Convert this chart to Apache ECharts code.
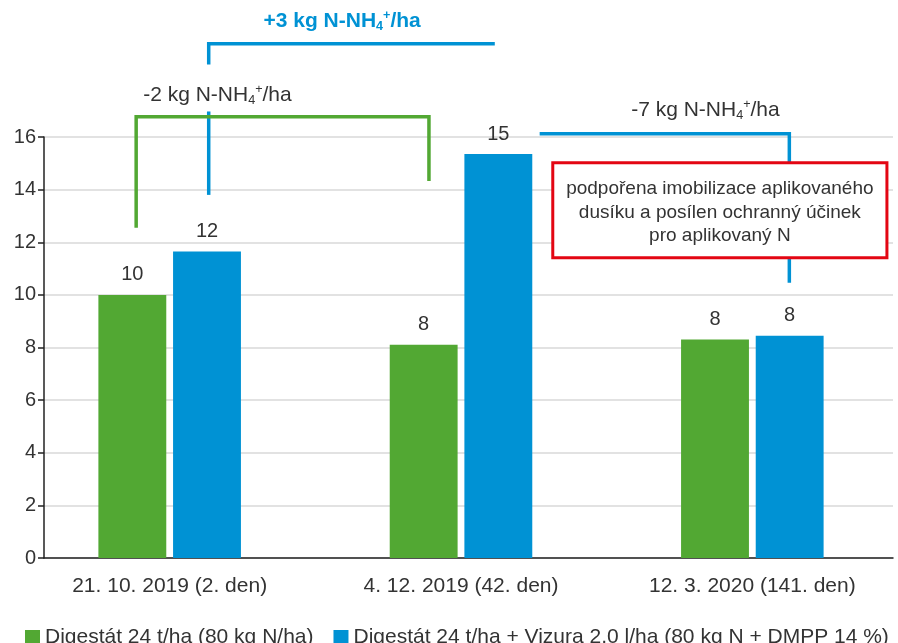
<!DOCTYPE html>
<html>
<head>
<meta charset="utf-8">
<script src="https://cdn.jsdelivr.net/npm/echarts@6/dist/echarts.min.js"></script>
<style>
  html, body { margin: 0; padding: 0; background: #fff; }
  #chart { width: 898px; height: 643px; }
</style>
</head>
<body>
<div id="chart"></div>
<script>
const categories = ['21. 10. 2019 (2. den)', '4. 12. 2019 (42. den)', '12. 3. 2020 (141. den)']
const seriesNames = ['Digestát 24 t/ha (80 kg N/ha)', 'Digestát 24 t/ha + Vizura 2,0 l/ha (80 kg N + DMPP 14 %)']
const digestat = [10.0, 8.1, 8.3]
const digestatVizura = [11.65, 15.35, 8.45]
const yMin = 0
const yMax = 16
const yStep = 2
const noteText = 'podpořena imobilizace aplikovaného\ndusíku a posílen ochranný účinek\npro aplikovaný N'

const GREEN = '#52a833'
const BLUE = '#0092d4'
const RED = '#e30613'
const TEXT = '#333333'
const FONT = 'Liberation Sans, Arial, sans-serif'

const chart = echarts.init(document.getElementById('chart'))

const option = {
  animation: false,
  textStyle: { fontFamily: FONT },
  grid: [
    // bars
    { left: 24, right: -2, top: 137, bottom: 85 },
    // visible axes
    { left: 44, right: 5, top: 137, bottom: 85 }
  ],
  legend: {
    left: 20,
    top: 622,
    icon: 'rect',
    itemWidth: 15,
    itemHeight: 15,
    itemGap: 20,
    textStyle: { fontSize: 21, color: TEXT, fontFamily: FONT },
    data: seriesNames
  },
  xAxis: [
    {
      type: 'category',
      gridIndex: 0,
      data: categories,
      axisLine: { show: false },
      axisTick: { show: false },
      axisLabel: { fontSize: 21, color: TEXT, margin: 18 }
    },
    {
      type: 'value',
      gridIndex: 1,
      min: 0,
      max: 1,
      axisLine: { show: true, lineStyle: { color: '#222', width: 1.5 } },
      axisTick: { show: false },
      axisLabel: { show: false },
      splitLine: { show: false }
    }
  ],
  yAxis: [
    {
      type: 'value',
      gridIndex: 0,
      min: yMin,
      max: yMax,
      show: false,
      splitLine: { show: false }
    },
    {
      type: 'value',
      gridIndex: 1,
      min: yMin,
      max: yMax,
      interval: yStep,
      axisLine: { show: true, lineStyle: { color: '#222', width: 1.5 } },
      axisTick: { show: true, length: 6, lineStyle: { color: '#222', width: 1.5 } },
      axisLabel: { fontSize: 20, color: TEXT, margin: 8 },
      splitLine: { show: true, lineStyle: { color: '#d9d9d9', width: 1.5 } }
    }
  ],
  series: [
    {
      name: seriesNames[0],
      type: 'bar',
      xAxisIndex: 0,
      yAxisIndex: 0,
      data: digestat,
      barWidth: '23.3%',
      barGap: '10%',
      itemStyle: { color: GREEN },
      label: {
        show: true, position: 'top', distance: 10, fontSize: 20, color: TEXT,
        formatter: p => Math.round(p.value)
      }
    },
    {
      name: seriesNames[1],
      type: 'bar',
      xAxisIndex: 0,
      yAxisIndex: 0,
      data: digestatVizura,
      barWidth: '23.3%',
      barGap: '10%',
      itemStyle: { color: BLUE },
      label: {
        show: true, position: 'top', distance: 10, fontSize: 20, color: TEXT,
        formatter: p => Math.round(p.value)
      }
    }
  ]
}
chart.setOption(option)

// annotation anchors: [category index, offset in band widths, value]
const c0 = chart.convertToPixel({ xAxisIndex: 0, yAxisIndex: 0 }, [0, 0])
const c1 = chart.convertToPixel({ xAxisIndex: 0, yAxisIndex: 0 }, [1, 0])
const band = c1[0] - c0[0]
function pt(cat, off, val) {
  const p = chart.convertToPixel({ xAxisIndex: 0, yAxisIndex: 0 }, [cat, val])
  return [p[0] + off * band, p[1]]
}
function line(points, color, z) {
  return {
    type: 'polyline', z: z, silent: true,
    shape: { points: points },
    style: { stroke: color, lineWidth: 3.5, fill: null }
  }
}
const rich = (size, color, weight) => ({
  a: { fontSize: size, fill: color, fontWeight: weight, fontFamily: FONT },
  sub: { fontSize: size * 0.6, fill: color, fontWeight: weight, fontFamily: FONT, padding: [size * 0.55, 0, 0, 0] },
  sup: { fontSize: size * 0.6, fill: color, fontWeight: weight, fontFamily: FONT, padding: [0, 0, size * 0.55, 0] }
})
function label(text, p, size, color, weight) {
  return {
    type: 'text', z: 20, silent: true,
    x: p[0], y: p[1],
    style: {
      text: '{a|' + text + ' kg N-NH}{sub|4}{sup|+}{a|/ha}',
      rich: rich(size, color, weight),
      fill: color,
      align: 'center', verticalAlign: 'middle'
    }
  }
}

const boxTL = pt(2, -0.685, 15.02)
const boxBR = pt(2, 0.462, 11.41)

chart.setOption({
  graphic: [
    // blue bracket 1
    line([pt(0, 0.134, 13.8), pt(0, 0.134, 16.97)], BLUE, 10),
    line([pt(0, 0.134, 18.76), pt(0, 0.134, 19.54), pt(1, 0.116, 19.54)], BLUE, 10),
    // green bracket
    line([pt(0, -0.115, 12.55), pt(0, -0.115, 16.77), pt(1, -0.11, 16.77), pt(1, -0.11, 14.33)], GREEN, 11),
    // blue bracket 2
    line([pt(1, 0.27, 16.12), pt(2, 0.127, 16.12), pt(2, 0.127, 10.46)], BLUE, 10),
    label('-2', pt(0, 0.164, 17.6), 21, TEXT, 'normal'),
    label('+3', pt(0, 0.592, 20.4), 21, BLUE, 'bold'),
    label('-7', pt(2, -0.161, 17.03), 21, TEXT, 'normal'),
    {
      type: 'rect', z: 15, silent: true,
      shape: { x: boxTL[0], y: boxTL[1], width: boxBR[0] - boxTL[0], height: boxBR[1] - boxTL[1] },
      style: { fill: '#fff', stroke: RED, lineWidth: 3 }
    },
    {
      type: 'text', z: 16, silent: true,
      x: (boxTL[0] + boxBR[0]) / 2, y: (boxTL[1] + boxBR[1]) / 2 + 2,
      style: {
        text: noteText, align: 'center', verticalAlign: 'middle',
        fontSize: 19, lineHeight: 23.5, fill: TEXT, fontFamily: FONT
      }
    }
  ]
})
</script>
</body>
</html>
